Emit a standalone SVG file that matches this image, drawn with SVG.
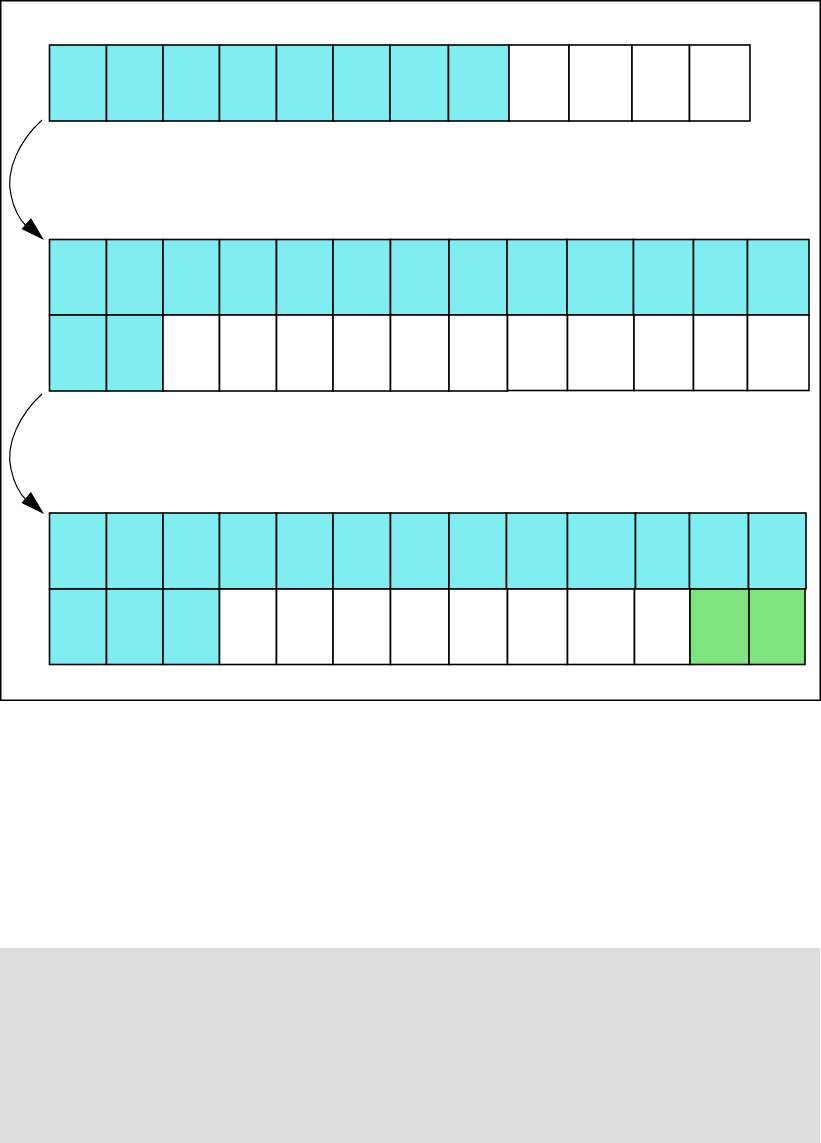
<svg xmlns="http://www.w3.org/2000/svg" width="821" height="1143" viewBox="0 0 821 1143">
<style>
.cell{stroke:#000;stroke-width:1.6}
.c{fill:#80EEF0}
.w{fill:#fff}
.g{fill:#80E47E}
.conn{fill:none;stroke:#000;stroke-width:1.2}
</style>
<defs>
<marker id="ah" viewBox="0 0 10 10" refX="10" refY="5" markerWidth="10" markerHeight="10" markerUnits="userSpaceOnUse" orient="auto" overflow="visible">
<path d="M0,0 L10,5 L0,10 z" fill="#000" transform="scale(2.4,1.35) translate(0,-1.3)"/>
</marker>
</defs>
<rect x="0" y="0" width="821" height="1143" fill="#fff"/>
<rect id="frame" x="0.75" y="0.75" width="819.5" height="699.5" fill="none" stroke="#000" stroke-width="1.5"/>
<rect id="footer" x="0" y="948" width="820" height="195" fill="#dddddd"/>

<g id="row1">
<rect id="r1c1" class="cell c" x="49.5" y="45" width="57" height="76"/>
<rect id="r1c2" class="cell c" x="106.5" y="45" width="56.5" height="76"/>
<rect id="r1c3" class="cell c" x="163" y="45" width="56.5" height="76"/>
<rect id="r1c4" class="cell c" x="219.5" y="45" width="57" height="76"/>
<rect id="r1c5" class="cell c" x="276.5" y="45" width="56.5" height="76"/>
<rect id="r1c6" class="cell c" x="333" y="45" width="57" height="76"/>
<rect id="r1c7" class="cell c" x="390" y="45" width="58.5" height="76"/>
<rect id="r1c8" class="cell c" x="448.5" y="45" width="60.5" height="76"/>
<rect id="r1c9" class="cell w" x="509" y="45" width="60" height="76"/>
<rect id="r1c10" class="cell w" x="569" y="45" width="63" height="76"/>
<rect id="r1c11" class="cell w" x="632" y="45" width="57.5" height="76"/>
<rect id="r1c12" class="cell w" x="689.5" y="45" width="60.5" height="76"/>
</g>

<g id="row2">
<rect id="r2a1" class="cell c" x="49.5" y="239.5" width="57" height="75.5"/>
<rect id="r2a2" class="cell c" x="106.5" y="239.5" width="56.5" height="75.5"/>
<rect id="r2a3" class="cell c" x="163" y="239.5" width="56.5" height="75.5"/>
<rect id="r2a4" class="cell c" x="219.5" y="239.5" width="57" height="75.5"/>
<rect id="r2a5" class="cell c" x="276.5" y="239.5" width="56.5" height="75.5"/>
<rect id="r2a6" class="cell c" x="333" y="239.5" width="57.5" height="75.5"/>
<rect id="r2a7" class="cell c" x="390.5" y="239.5" width="58.5" height="75.5"/>
<rect id="r2a8" class="cell c" x="449" y="239.5" width="58" height="75.5"/>
<rect id="r2a9" class="cell c" x="507" y="239.5" width="60" height="75.5"/>
<rect id="r2a10" class="cell c" x="567" y="239.5" width="66.5" height="75.5"/>
<rect id="r2a11" class="cell c" x="633.5" y="239.5" width="60" height="75.5"/>
<rect id="r2a12" class="cell c" x="693.5" y="239.5" width="54" height="75.5"/>
<rect id="r2a13" class="cell c" x="747.5" y="239.5" width="61.5" height="75.5"/>
<rect id="r2b1" class="cell c" x="49.5" y="315" width="57" height="76"/>
<rect id="r2b2" class="cell c" x="106.5" y="315" width="56.5" height="76"/>
<rect id="r2b3" class="cell w" x="163" y="315" width="56.5" height="76"/>
<rect id="r2b4" class="cell w" x="219.5" y="315" width="57" height="76"/>
<rect id="r2b5" class="cell w" x="276.5" y="315" width="56.5" height="76"/>
<rect id="r2b6" class="cell w" x="333" y="315" width="57.5" height="76"/>
<rect id="r2b7" class="cell w" x="390.5" y="315" width="58.5" height="76"/>
<rect id="r2b8" class="cell w" x="449" y="315" width="58.5" height="76"/>
<rect id="r2b9" class="cell w" x="507.5" y="315" width="60" height="75.5"/>
<rect id="r2b10" class="cell w" x="567.5" y="315" width="66.5" height="75.5"/>
<rect id="r2b11" class="cell w" x="634" y="315" width="59.5" height="75.5"/>
<rect id="r2b12" class="cell w" x="693.5" y="315" width="54" height="75.5"/>
<rect id="r2b13" class="cell w" x="747.5" y="315" width="61.5" height="75.5"/>
</g>

<g id="row3">
<rect id="r3a1" class="cell c" x="49.5" y="513" width="57" height="76"/>
<rect id="r3a2" class="cell c" x="106.5" y="513" width="56.5" height="76"/>
<rect id="r3a3" class="cell c" x="163" y="513" width="56.5" height="76"/>
<rect id="r3a4" class="cell c" x="219.5" y="513" width="57" height="76"/>
<rect id="r3a5" class="cell c" x="276.5" y="513" width="56.5" height="76"/>
<rect id="r3a6" class="cell c" x="333" y="513" width="57.5" height="76"/>
<rect id="r3a7" class="cell c" x="390.5" y="513" width="58.5" height="76"/>
<rect id="r3a8" class="cell c" x="449" y="513" width="57.5" height="76"/>
<rect id="r3a9" class="cell c" x="506.5" y="513" width="61" height="76"/>
<rect id="r3a10" class="cell c" x="567.5" y="513" width="68" height="76"/>
<rect id="r3a11" class="cell c" x="635.5" y="513" width="54" height="76"/>
<rect id="r3a12" class="cell c" x="689.5" y="513" width="59" height="76"/>
<rect id="r3a13" class="cell c" x="748.5" y="513" width="57.5" height="76"/>
<rect id="r3b1" class="cell c" x="49.5" y="589" width="57" height="75.5"/>
<rect id="r3b2" class="cell c" x="106.5" y="589" width="56.5" height="75.5"/>
<rect id="r3b3" class="cell c" x="163" y="589" width="56.5" height="75.5"/>
<rect id="r3b4" class="cell w" x="219.5" y="589" width="57" height="75.5"/>
<rect id="r3b5" class="cell w" x="276.5" y="589" width="56.5" height="75.5"/>
<rect id="r3b6" class="cell w" x="333" y="589" width="57.5" height="75.5"/>
<rect id="r3b7" class="cell w" x="390.5" y="589" width="58.5" height="75.5"/>
<rect id="r3b8" class="cell w" x="449" y="589" width="58.5" height="75.5"/>
<rect id="r3b9" class="cell w" x="507.5" y="589" width="60" height="75.5"/>
<rect id="r3b10" class="cell w" x="567.5" y="589" width="67" height="75.5"/>
<rect id="r3b11" class="cell w" x="634.5" y="589" width="55.5" height="75.5"/>
<rect id="r3b12" class="cell g" x="690" y="589" width="59" height="75.5"/>
<rect id="r3b13" class="cell g" x="749" y="589" width="56" height="75.5"/>
</g>

<g id="connectors">
<path class="conn" d="M42,120 C20,140 5,170 11,195 C14,210 20,220 27,227"/>
<polygon points="44,240 21.5,229 31,218" fill="#000"/>
<path class="conn" d="M42,394 C20,414 5,444 11,469 C14,484 20,494 27,501"/>
<polygon points="44,514 21.5,503 31,492" fill="#000"/>
</g>
</svg>
